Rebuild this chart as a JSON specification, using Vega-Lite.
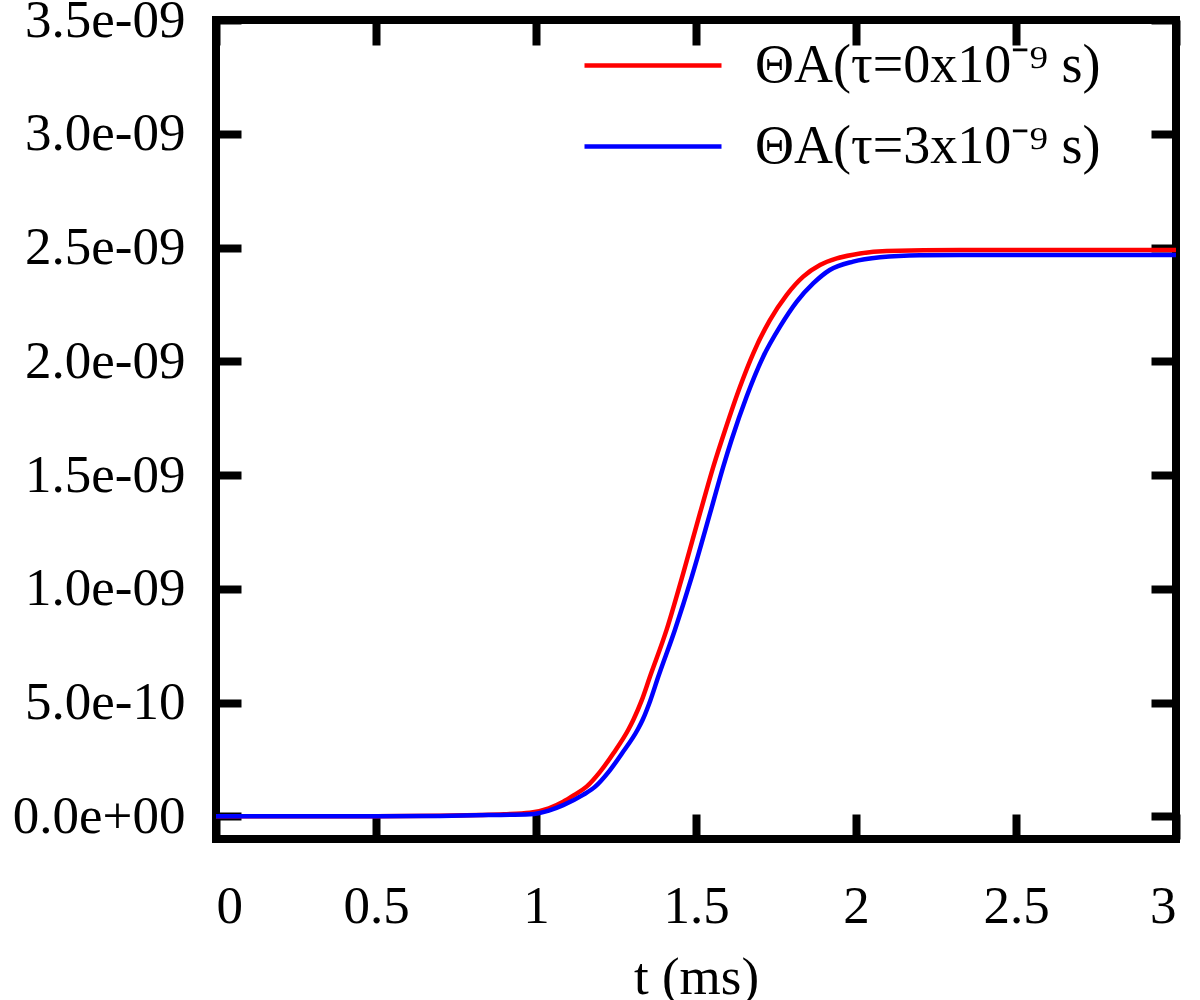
{
  "$schema": "https://vega.github.io/schema/vega-lite/v6.json",
  "width": 960,
  "height": 819,
  "autosize": {"type": "none"},
  "padding": {"left": 216, "top": 20, "right": 24, "bottom": 161},
  "background": "white",
  "config": {
    "view": {"stroke": "black", "strokeWidth": 8},
    "font": "Liberation Serif",
    "axis": {
      "grid": false,
      "domain": false,
      "tickColor": "black",
      "tickWidth": 8,
      "tickSize": -25,
      "tickCap": "butt",
      "labelFont": "Liberation Serif",
      "labelFontSize": 53,
      "labelColor": "black",
      "titleFont": "Liberation Serif",
      "titleFontSize": 53,
      "titleFontWeight": "normal",
      "titleColor": "black"
    },
    "legend": {
      "labelFont": "Liberation Serif",
      "labelFontSize": 54,
      "labelColor": "black",
      "labelLimit": 0
    }
  },
  "data": {
    "values": [
      {"t": 0.0, "v": 0.0, "series": "ΘA(τ=0x10⁻⁹ s)"},
      {"t": 0.25, "v": 0.0, "series": "ΘA(τ=0x10⁻⁹ s)"},
      {"t": 0.5, "v": 0.5e-12, "series": "ΘA(τ=0x10⁻⁹ s)"},
      {"t": 0.7, "v": 2.0e-12, "series": "ΘA(τ=0x10⁻⁹ s)"},
      {"t": 0.825, "v": 5.5e-12, "series": "ΘA(τ=0x10⁻⁹ s)"},
      {"t": 0.9, "v": 9.0e-12, "series": "ΘA(τ=0x10⁻⁹ s)"},
      {"t": 0.981, "v": 1.56e-11, "series": "ΘA(τ=0x10⁻⁹ s)"},
      {"t": 1.04, "v": 3.5e-11, "series": "ΘA(τ=0x10⁻⁹ s)"},
      {"t": 1.085, "v": 6.4e-11, "series": "ΘA(τ=0x10⁻⁹ s)"},
      {"t": 1.12, "v": 9.4e-11, "series": "ΘA(τ=0x10⁻⁹ s)"},
      {"t": 1.158, "v": 1.30e-10, "series": "ΘA(τ=0x10⁻⁹ s)"},
      {"t": 1.2, "v": 1.95e-10, "series": "ΘA(τ=0x10⁻⁹ s)"},
      {"t": 1.242, "v": 2.77e-10, "series": "ΘA(τ=0x10⁻⁹ s)"},
      {"t": 1.288, "v": 3.79e-10, "series": "ΘA(τ=0x10⁻⁹ s)"},
      {"t": 1.304, "v": 4.23e-10, "series": "ΘA(τ=0x10⁻⁹ s)"},
      {"t": 1.33, "v": 5.08e-10, "series": "ΘA(τ=0x10⁻⁹ s)"},
      {"t": 1.356, "v": 6.13e-10, "series": "ΘA(τ=0x10⁻⁹ s)"},
      {"t": 1.408, "v": 8.19e-10, "series": "ΘA(τ=0x10⁻⁹ s)"},
      {"t": 1.46, "v": 1.068e-9, "series": "ΘA(τ=0x10⁻⁹ s)"},
      {"t": 1.5125, "v": 1.332e-9, "series": "ΘA(τ=0x10⁻⁹ s)"},
      {"t": 1.554, "v": 1.536e-9, "series": "ΘA(τ=0x10⁻⁹ s)"},
      {"t": 1.591, "v": 1.698e-9, "series": "ΘA(τ=0x10⁻⁹ s)"},
      {"t": 1.6375, "v": 1.888e-9, "series": "ΘA(τ=0x10⁻⁹ s)"},
      {"t": 1.679, "v": 2.035e-9, "series": "ΘA(τ=0x10⁻⁹ s)"},
      {"t": 1.731, "v": 2.181e-9, "series": "ΘA(τ=0x10⁻⁹ s)"},
      {"t": 1.783, "v": 2.291e-9, "series": "ΘA(τ=0x10⁻⁹ s)"},
      {"t": 1.835, "v": 2.372e-9, "series": "ΘA(τ=0x10⁻⁹ s)"},
      {"t": 1.8875, "v": 2.423e-9, "series": "ΘA(τ=0x10⁻⁹ s)"},
      {"t": 1.94, "v": 2.452e-9, "series": "ΘA(τ=0x10⁻⁹ s)"},
      {"t": 2.0125, "v": 2.474e-9, "series": "ΘA(τ=0x10⁻⁹ s)"},
      {"t": 2.096, "v": 2.485e-9, "series": "ΘA(τ=0x10⁻⁹ s)"},
      {"t": 2.325, "v": 2.489e-9, "series": "ΘA(τ=0x10⁻⁹ s)"},
      {"t": 3.0, "v": 2.489e-9, "series": "ΘA(τ=0x10⁻⁹ s)"},
      {"t": 0.0, "v": 0.0, "series": "ΘA(τ=3x10⁻⁹ s)"},
      {"t": 0.25, "v": 0.0, "series": "ΘA(τ=3x10⁻⁹ s)"},
      {"t": 0.5, "v": 0.4e-12, "series": "ΘA(τ=3x10⁻⁹ s)"},
      {"t": 0.7, "v": 1.5e-12, "series": "ΘA(τ=3x10⁻⁹ s)"},
      {"t": 0.85, "v": 5.0e-12, "series": "ΘA(τ=3x10⁻⁹ s)"},
      {"t": 0.981, "v": 8.6e-12, "series": "ΘA(τ=3x10⁻⁹ s)"},
      {"t": 1.04, "v": 2.5e-11, "series": "ΘA(τ=3x10⁻⁹ s)"},
      {"t": 1.085, "v": 4.9e-11, "series": "ΘA(τ=3x10⁻⁹ s)"},
      {"t": 1.147, "v": 9.4e-11, "series": "ΘA(τ=3x10⁻⁹ s)"},
      {"t": 1.185, "v": 1.30e-10, "series": "ΘA(τ=3x10⁻⁹ s)"},
      {"t": 1.227, "v": 1.95e-10, "series": "ΘA(τ=3x10⁻⁹ s)"},
      {"t": 1.269, "v": 2.77e-10, "series": "ΘA(τ=3x10⁻⁹ s)"},
      {"t": 1.317, "v": 3.79e-10, "series": "ΘA(τ=3x10⁻⁹ s)"},
      {"t": 1.333, "v": 4.23e-10, "series": "ΘA(τ=3x10⁻⁹ s)"},
      {"t": 1.357, "v": 5.08e-10, "series": "ΘA(τ=3x10⁻⁹ s)"},
      {"t": 1.382, "v": 6.13e-10, "series": "ΘA(τ=3x10⁻⁹ s)"},
      {"t": 1.434, "v": 8.19e-10, "series": "ΘA(τ=3x10⁻⁹ s)"},
      {"t": 1.487, "v": 1.053e-9, "series": "ΘA(τ=3x10⁻⁹ s)"},
      {"t": 1.544, "v": 1.332e-9, "series": "ΘA(τ=3x10⁻⁹ s)"},
      {"t": 1.585, "v": 1.536e-9, "series": "ΘA(τ=3x10⁻⁹ s)"},
      {"t": 1.611, "v": 1.654e-9, "series": "ΘA(τ=3x10⁻⁹ s)"},
      {"t": 1.658, "v": 1.844e-9, "series": "ΘA(τ=3x10⁻⁹ s)"},
      {"t": 1.71, "v": 2.020e-9, "series": "ΘA(τ=3x10⁻⁹ s)"},
      {"t": 1.7625, "v": 2.152e-9, "series": "ΘA(τ=3x10⁻⁹ s)"},
      {"t": 1.815, "v": 2.262e-9, "series": "ΘA(τ=3x10⁻⁹ s)"},
      {"t": 1.867, "v": 2.343e-9, "series": "ΘA(τ=3x10⁻⁹ s)"},
      {"t": 1.918, "v": 2.401e-9, "series": "ΘA(τ=3x10⁻⁹ s)"},
      {"t": 1.991, "v": 2.438e-9, "series": "ΘA(τ=3x10⁻⁹ s)"},
      {"t": 2.075, "v": 2.457e-9, "series": "ΘA(τ=3x10⁻⁹ s)"},
      {"t": 2.2, "v": 2.466e-9, "series": "ΘA(τ=3x10⁻⁹ s)"},
      {"t": 2.325, "v": 2.467e-9, "series": "ΘA(τ=3x10⁻⁹ s)"},
      {"t": 3.0, "v": 2.467e-9, "series": "ΘA(τ=3x10⁻⁹ s)"}
    ]
  },
  "layer": [
    {
      "mark": {"type": "line", "strokeWidth": 4.5, "interpolate": "monotone"},
      "encoding": {
        "x": {
          "field": "t", "type": "quantitative",
          "scale": {"domain": [0, 3], "nice": false, "zero": false},
          "axis": {
            "orient": "bottom",
            "values": [0, 0.5, 1, 1.5, 2, 2.5, 3],
            "format": "~g",
            "labelPadding": 66,
            "labelDx": 6,
            "title": "t (ms)",
            "titleBaseline": "alphabetic",
            "titleY": 154
          }
        },
        "y": {
          "field": "v", "type": "quantitative",
          "scale": {"domain": [-1e-10, 3.5e-9], "nice": false, "zero": false},
          "axis": {
            "orient": "left",
            "values": [0, 5e-10, 1e-9, 1.5e-9, 2e-9, 2.5e-9, 3e-9, 3.5e-9],
            "labelPadding": 56,
            "labelExpr": "split(format(datum.value,'.1e'),'e')[0] + 'e' + substring(split(format(datum.value,'.1e'),'e')[1],0,1) + pad(substring(split(format(datum.value,'.1e'),'e')[1],1),2,'0','left')",
            "title": null
          }
        },
        "color": {
          "field": "series", "type": "nominal",
          "scale": {"domain": ["ΘA(τ=0x10⁻⁹ s)", "ΘA(τ=3x10⁻⁹ s)"], "range": ["#ff0000", "#0000ff"]},
          "legend": {
            "title": null,
            "orient": "none",
            "legendX": 366,
            "legendY": 5,
            "symbolType": "stroke",
            "symbolSize": 18769,
            "symbolStrokeWidth": 4.5,
            "labelOffset": 31,
            "clipHeight": 81,
            "rowPadding": 0
          }
        }
      }
    },
    {
      "mark": {"type": "line", "strokeOpacity": 0},
      "encoding": {
        "x": {
          "field": "t", "type": "quantitative",
          "axis": {"orient": "top", "values": [0, 0.5, 1, 1.5, 2, 2.5, 3], "labels": false, "title": null}
        },
        "y": {
          "field": "v", "type": "quantitative",
          "axis": {"orient": "right", "values": [0, 5e-10, 1e-9, 1.5e-9, 2e-9, 2.5e-9, 3e-9, 3.5e-9], "labels": false, "title": null}
        },
        "detail": {"field": "series"}
      }
    }
  ],
  "resolve": {"axis": {"x": "independent", "y": "independent"}}
}
